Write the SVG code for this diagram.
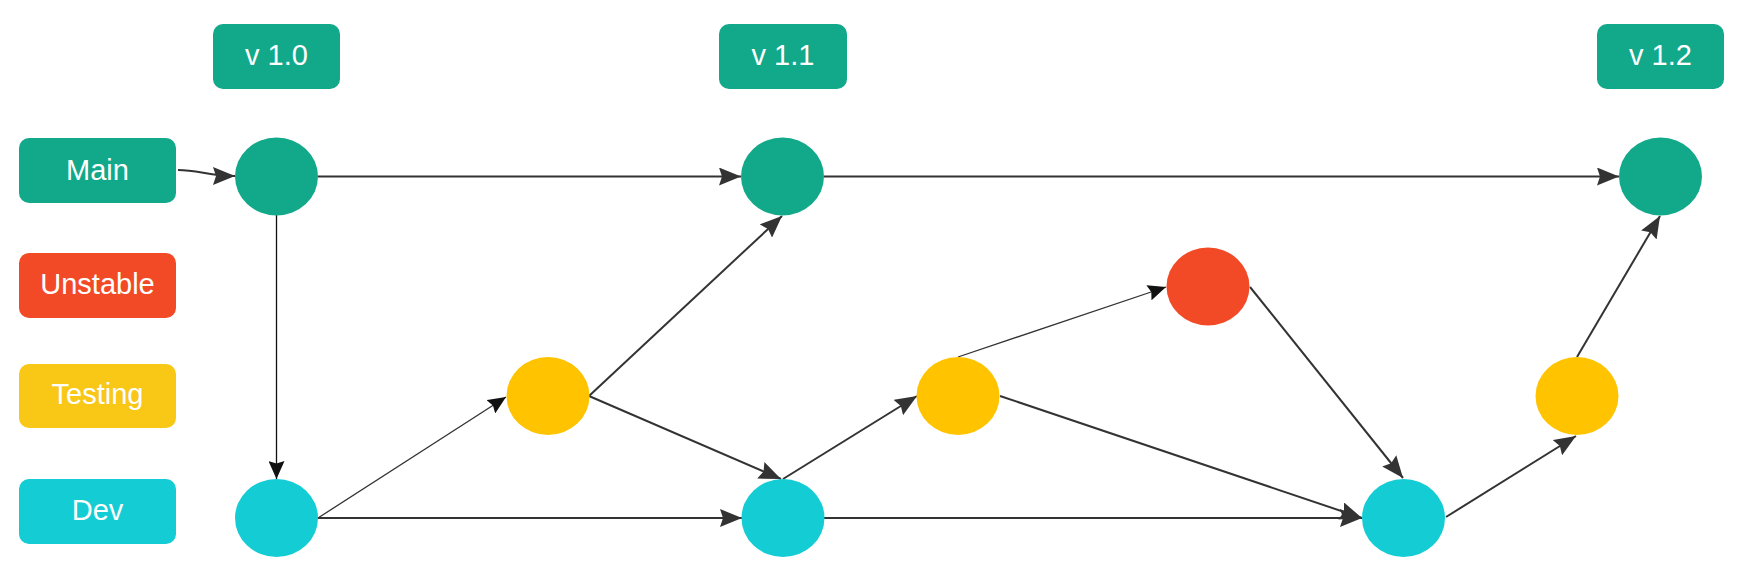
<svg xmlns="http://www.w3.org/2000/svg" width="1739" height="574" viewBox="0 0 1739 574">
<defs>
<style>
.lbl{font-family:"Liberation Sans",Arial,sans-serif;font-size:29px;fill:#ffffff;text-anchor:middle}
.green{fill:#12A88A}
.red{fill:#F24A26}
.yellow{fill:#FFC300}
.ybox{fill:#F9C716}
.cyan{fill:#14CCD4}
.edge{fill:none;stroke:#333333;stroke-width:2}
.thin{fill:none;stroke:#333333;stroke-width:1.3}
.blk{fill:none;stroke:#111111;stroke-width:1.3}
</style>
<marker id="arr" markerUnits="userSpaceOnUse" markerWidth="23" markerHeight="18" refX="22" refY="9" orient="auto" viewBox="0 0 23 18">
<path d="M0,0 L22,9 L0,18 L3,9 z" fill="#333333"/>
</marker>
<marker id="arrs" markerUnits="userSpaceOnUse" markerWidth="19" markerHeight="16" refX="18" refY="8" orient="auto" viewBox="0 0 19 16">
<path d="M0,0 L18,8 L0,16 L2.5,8 z" fill="#111111"/>
</marker>
</defs>
<rect width="1739" height="574" fill="#ffffff"/>

<g id="connectors">
<path class="edge" d="M178,170 C198,170 210,176 235,176" marker-end="url(#arr)"/>
<path class="edge" d="M318,176.5 L741,176.5" marker-end="url(#arr)"/>
<path class="edge" d="M824,176.5 L1619,176.5" marker-end="url(#arr)"/>
<path class="blk" d="M276.5,215 L276.5,479" marker-end="url(#arrs)"/>
<path class="thin" d="M318,518 L506,397" marker-end="url(#arrs)"/>
<path class="edge" d="M318,518 L742,518" marker-end="url(#arr)"/>
<path class="edge" d="M589,396 L782,216" marker-end="url(#arr)"/>
<path class="edge" d="M589,396 L781,479" marker-end="url(#arr)"/>
<path class="edge" d="M783,479 L917,396" marker-end="url(#arr)"/>
<path class="thin" d="M958,357 L1166,287" marker-end="url(#arrs)"/>
<path class="edge" d="M1000,396 L1362,518" marker-end="url(#arr)"/>
<path class="edge" d="M824,518 L1362,518" marker-end="url(#arr)"/>
<path class="edge" d="M1250,287 L1403,478" marker-end="url(#arr)"/>
<path class="edge" d="M1446,517 L1576,436" marker-end="url(#arr)"/>
<path class="edge" d="M1577,357 L1660,216" marker-end="url(#arr)"/>
</g>

<g id="tag-v10"><rect class="green" x="213" y="24" width="127" height="65" rx="10"/><text class="lbl" x="276.5" y="65">v 1.0</text></g>
<g id="tag-v11"><rect class="green" x="719" y="24" width="128" height="65" rx="10"/><text class="lbl" x="783" y="65">v 1.1</text></g>
<g id="tag-v12"><rect class="green" x="1597" y="24" width="127" height="65" rx="10"/><text class="lbl" x="1660.5" y="65">v 1.2</text></g>

<g id="legend-main"><rect class="green" x="19" y="138" width="157" height="65" rx="10"/><text class="lbl" x="97.5" y="180">Main</text></g>
<g id="legend-unstable"><rect class="red" x="19" y="253" width="157" height="65" rx="10"/><text class="lbl" x="97.5" y="294">Unstable</text></g>
<g id="legend-testing"><rect class="ybox" x="19" y="364" width="157" height="64" rx="10"/><text class="lbl" x="97.5" y="404">Testing</text></g>
<g id="legend-dev"><rect class="cyan" x="19" y="479" width="157" height="65" rx="10"/><text class="lbl" x="97.5" y="520">Dev</text></g>

<g id="main1"><ellipse class="green" cx="276.5" cy="176.5" rx="41.5" ry="39"/></g>
<g id="main2"><ellipse class="green" cx="782.5" cy="176.5" rx="41.5" ry="39"/></g>
<g id="main3"><ellipse class="green" cx="1660.5" cy="176.5" rx="41.5" ry="39"/></g>
<g id="dev1"><ellipse class="cyan" cx="276.5" cy="518" rx="41.5" ry="39"/></g>
<g id="dev2"><ellipse class="cyan" cx="783" cy="518" rx="41.5" ry="39"/></g>
<g id="dev3"><ellipse class="cyan" cx="1403.5" cy="518" rx="41.5" ry="39"/></g>
<g id="test1"><ellipse class="yellow" cx="548" cy="396" rx="41.5" ry="39"/></g>
<g id="test2"><ellipse class="yellow" cx="958" cy="396" rx="41.5" ry="39"/></g>
<g id="test3"><ellipse class="yellow" cx="1577" cy="396" rx="41.5" ry="39"/></g>
<g id="unstable1"><ellipse class="red" cx="1208" cy="286.5" rx="41.5" ry="39"/></g>
</svg>
